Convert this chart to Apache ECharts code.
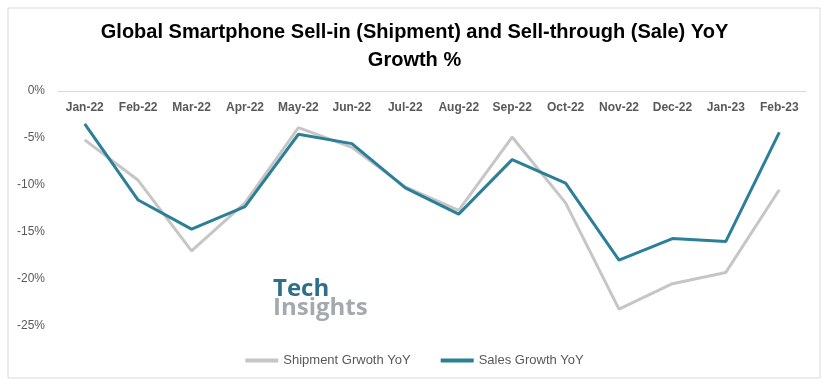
<!DOCTYPE html>
<html><head><meta charset="utf-8">
<script src="https://cdn.jsdelivr.net/npm/echarts@6/dist/echarts.min.js"></script>
<style>html,body{margin:0;padding:0;background:#fff}#c{width:829px;height:386px}</style>
</head><body><div id="c"></div>
<script>
const categories = ['Jan-22','Feb-22','Mar-22','Apr-22','May-22','Jun-22','Jul-22','Aug-22','Sep-22','Oct-22','Nov-22','Dec-22','Jan-23','Feb-23'];
const shipmentGrowth = [-5.2,-9.5,-17.0,-11.9,-3.9,-6.0,-10.2,-12.7,-4.9,-11.9,-23.2,-20.5,-19.3,-10.5];
const salesGrowth = [-3.5,-11.6,-14.7,-12.3,-4.6,-5.6,-10.3,-13.1,-7.3,-9.8,-18.0,-15.7,-16.0,-4.4];
const seriesNames = ['Shipment Grwoth YoY','Sales Growth YoY'];
const titleText = 'Global Smartphone Sell-in (Shipment) and Sell-through (Sale) YoY\nGrowth %';

const font = "'Liberation Sans',Arial,sans-serif";
const chart = echarts.init(document.getElementById('c'));
chart.setOption({
  animation:false,
  backgroundColor:'#fff',
  title:{text:titleText,left:'center',top:13,
    textStyle:{fontFamily:font,fontSize:20,fontWeight:'bold',color:'#000',lineHeight:28}},
  grid:{left:58,right:23,top:91,bottom:60,containLabel:false},
  legend:{bottom:14,left:'center',itemWidth:33,itemHeight:4,itemGap:30,icon:'rect',
    textStyle:{fontFamily:font,fontSize:13,color:'#595959'},data:seriesNames},
  xAxis:{type:'category',data:categories,boundaryGap:true,position:'top',
    axisLine:{lineStyle:{color:'#d9d9d9',width:1}},
    axisTick:{inside:false,length:5,lineStyle:{color:'#d9d9d9'}},
    axisLabel:{inside:true,interval:0,fontFamily:font,fontSize:12,fontWeight:'bold',color:'#595959',margin:11}},
  yAxis:{type:'value',min:-25,max:0,interval:5,
    axisLine:{show:false},axisTick:{show:false},splitLine:{show:false},
    axisLabel:{formatter:'{value}%',fontFamily:font,fontSize:12,color:'#595959',margin:13}},
  graphic:[
    {type:'rect',shape:{x:8,y:8,width:812,height:370},style:{fill:'none',stroke:'#d9d9d9',lineWidth:1},z:-1},
    {type:'text',left:273,top:277,style:{text:'Tech',fontFamily:"'Open Sans',sans-serif",fontSize:24,fontWeight:'bold',fill:'#2d6f8a'}},
    {type:'text',left:273,top:296,style:{text:'Insights',fontFamily:"'Open Sans',sans-serif",fontSize:24,fontWeight:'bold',fill:'#a3a9ad'}}
  ],
  series:[
    {name:seriesNames[0],type:'line',data:shipmentGrowth,showSymbol:false,symbol:'none',
     lineStyle:{color:'#c6c6c6',width:3},itemStyle:{color:'#c6c6c6'}},
    {name:seriesNames[1],type:'line',data:salesGrowth,showSymbol:false,symbol:'none',
     lineStyle:{color:'#2b7f96',width:3},itemStyle:{color:'#2b7f96'}}
  ]
});
</script></body></html>
